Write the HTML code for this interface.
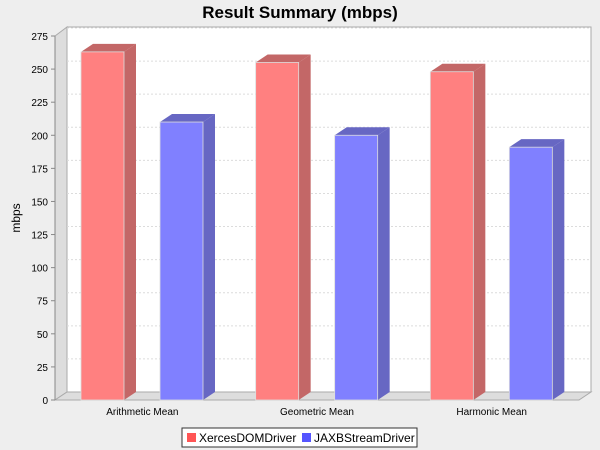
<!DOCTYPE html>
<html><head><meta charset="utf-8"><style>
body{margin:0;background:#eeeeee;}
svg{display:block;font-family:"Liberation Sans",sans-serif;}
</style></head><body>
<svg id="chart" width="600" height="450">
<rect width="600" height="450" fill="#eeeeee"/>
<text x="300" y="18" text-anchor="middle" font-size="17" font-weight="bold">Result Summary (mbps)</text>
<text transform="translate(20,218) rotate(-90)" text-anchor="middle" font-size="12">mbps</text>
<g id="plot"></g>
<g>
<rect x="182" y="428" width="235" height="19" fill="#fff" stroke="#333"/>
<rect x="187" y="433" width="9" height="9" fill="#ff5555"/>
<text x="199" y="442" font-size="12">XercesDOMDriver</text>
<rect x="302" y="433" width="9" height="9" fill="#5555ff"/>
<text x="314" y="442" font-size="12">JAXBStreamDriver</text>
</g>
</svg>
<script>
const categories=["Arithmetic Mean","Geometric Mean","Harmonic Mean"];
const xercesValues=[263,255,248];
const jaxbValues=[210,200,191];
const yTicks=[0,25,50,75,100,125,150,175,200,225,250,275];

const NS="http://www.w3.org/2000/svg";
const g=document.getElementById('plot');
const X0=55,X1=579,Y0=400,DX=12,DY=8,yMax=275,Ytop=36;
const y=v=>Y0-(v/yMax)*(Y0-Ytop);
function mk(t,a,p){const e=document.createElementNS(NS,t);for(const k in a)e.setAttribute(k,a[k]);(p||g).appendChild(e);return e;}
let e=mk('polygon',{points:`${X0+DX},${Ytop-DY-1} ${X1+DX},${Ytop-DY-1} ${X1+DX},${Y0-DY} ${X0+DX},${Y0-DY}`,fill:'#fff',stroke:'#aaa'});

e=mk('polygon',{points:`${X0},${Ytop} ${X0+DX},${Ytop-DY-1} ${X0+DX},${Y0-DY} ${X0},${Y0}`,fill:'#dddddd',stroke:'#aaa'});

e=mk('polygon',{points:`${X0},${Y0} ${X0+DX},${Y0-DY} ${X1+DX},${Y0-DY} ${X1},${Y0}`,fill:'#dddddd',stroke:'#aaa'});

yTicks.forEach(t=>{
  if(t>0){const l=mk('line',{x1:X0+DX,x2:X1+DX,y1:y(t)-DY,y2:y(t)-DY,stroke:'#dcdcdc','stroke-dasharray':'2,2'});
  }
  const tk=mk('line',{x1:X0-4,x2:X0,y1:y(t),y2:y(t),stroke:'#888'});
  
  const tx=mk('text',{x:X0-7,y:y(t)+4,'text-anchor':'end','font-size':'10'});tx.textContent=t;
  
});
e=mk('line',{x1:X0,x2:X0,y1:Ytop,y2:Y0,stroke:'#888'});

const cw=(X1-X0)/categories.length,bw=43;
function bar(x,v,front,side,top,name){
  const yt=y(v);
  const r=mk('polygon',{points:`${x+bw},${yt} ${x+bw+DX},${yt-DY} ${x+bw+DX},${Y0-DY} ${x+bw},${Y0}`,fill:side});
  
  const t=mk('polygon',{points:`${x},${yt} ${x+DX},${yt-DY} ${x+bw+DX},${yt-DY} ${x+bw},${yt}`,fill:top});
  
  const f=mk('rect',{x:x,y:yt,width:bw,height:Y0-yt,fill:front,stroke:'#ddd','stroke-width':0.8});
  
}
categories.forEach((c,i)=>{
  const cx=X0+cw*i;
  bar(cx+26,xercesValues[i],'#ff8080','#c36767','#c36767','bar-xerces-'+i);
  bar(cx+105,jaxbValues[i],'#8080ff','#6767c3','#6767c3','bar-jaxb-'+i);
  const tx=mk('text',{x:cx+cw/2,y:Y0+15,'text-anchor':'middle','font-size':'10'});tx.textContent=c;
  
});
</script>
</body></html>
